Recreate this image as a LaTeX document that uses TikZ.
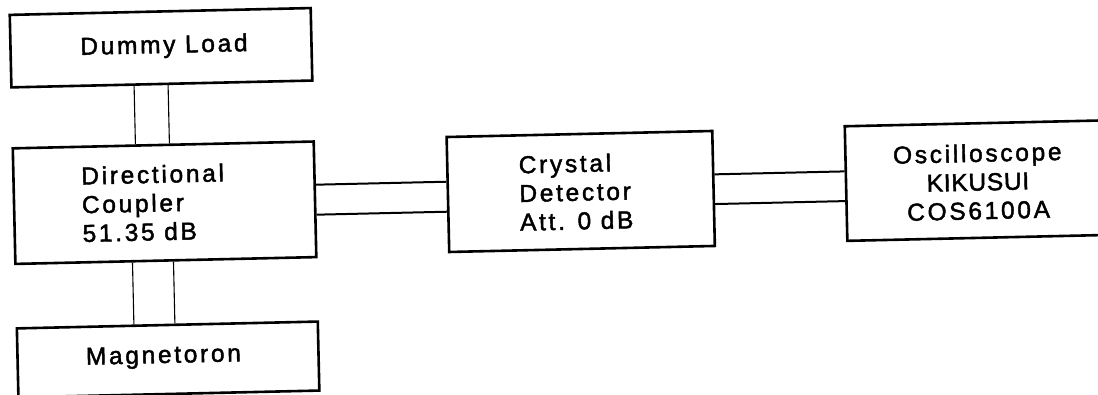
\documentclass[tikz,border=0pt]{standalone}
\usepackage{fontspec}
\newfontfamily\lblfont{Liberation Sans}[LetterSpace=11,FakeBold=1.8]
\usetikzlibrary{calc}
\begin{document}
\begin{tikzpicture}[x=1pt,y=-1pt,
  box/.style={draw=black, line width=2.6pt, rectangle, inner sep=0pt},
  lbl/.style={inner sep=0pt, font=\lblfont\fontsize{24.5}{28.7}\selectfont},
  vconn/.style={line width=1.1pt},
  hconn/.style={line width=2pt}]
\fill[white] (0,0) rectangle (1098,394);
\useasboundingbox (0,0) rectangle (1098,394);
\begin{scope}
\clip (0,0) rectangle (1098,394);
\begin{scope}[transform canvas={rotate around={1.3:(549,197)}}]
% boxes
\node[box, minimum width=301pt, minimum height=72.5pt] (dl) at (164.5,38.95) {};
\node[box, minimum width=301pt, minimum height=115.6pt] (dc) at (164.5,194) {};
\node[box, minimum width=301pt, minimum height=69pt] (mg) at (164.5,350.8) {};
\node[box, minimum width=265.7pt, minimum height=115pt] (cd) at (580.85,192.2) {};
\node[box, minimum width=263.7pt, minimum height=114.6pt] (osc) at (978.15,190.3) {};
% labels (multi-line nodes: base = baseline of last line)
\node[lbl, anchor=base] (dlt) at (167.5,44.3) {Dummy Load};
\node[lbl, anchor=base west, align=left] (dct) at (81.7,231.4) {Directional\\Coupler\\51.35 dB};
\node[lbl, anchor=base west, align=left] (cdt) at (519.3,230.1) {Crystal\\Detector\\Att. 0 dB};
\node[lbl, anchor=base, align=center] (osct) at (978.2,229) {Oscilloscope\\{\addfontfeatures{LetterSpace=3}KIKUSUI}\\COS6100A};
\node[lbl, anchor=base] (mgt) at (159.9,354.25) {Magnetoron};
% vertical connectors
\draw[vconn] ([xshift=124pt]dl.south west) -- ([xshift=124pt]dc.north west);
\draw[vconn] ([xshift=158pt]dl.south west) -- ([xshift=158pt]dc.north west);
\draw[vconn] ([xshift=118.4pt]dc.south west) -- ([xshift=118.4pt]mg.north west);
\draw[vconn] ([xshift=159.4pt]dc.south west) -- ([xshift=159.4pt]mg.north west);
% horizontal connectors
\coordinate (a1) at ([yshift=-44.5pt]dc.north east);
\coordinate (a2) at ([yshift=-74.5pt]dc.north east);
\draw[hconn] (a1) -- (a1 -| cd.west);
\draw[hconn] (a2) -- (a2 -| cd.west);
\coordinate (b1) at ([yshift=-44.7pt]cd.north east);
\coordinate (b2) at ([yshift=-74.4pt]cd.north east);
\draw[hconn] (b1) -- (b1 -| osc.west);
\draw[hconn] (b2) -- (b2 -| osc.west);
\end{scope}
\end{scope}
\end{tikzpicture}
\end{document}
